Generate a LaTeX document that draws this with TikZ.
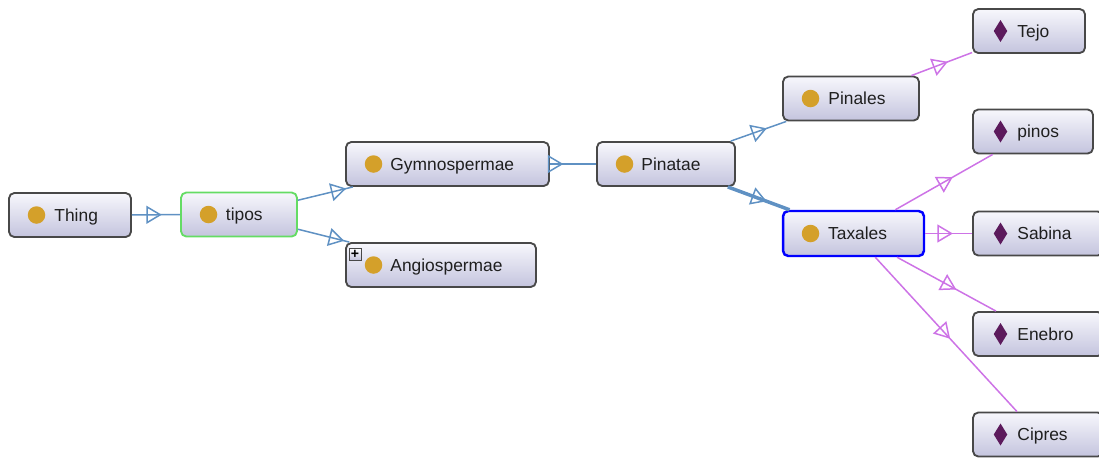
\documentclass[tikz,border=0pt]{standalone}
\usepackage{fontspec}
\setmainfont{Liberation Sans}
\usepackage{tikz}
\usetikzlibrary{positioning,arrows.meta,decorations.markings}
\definecolor{boxline}{RGB}{72,72,72}
\definecolor{boxtop}{RGB}{247,247,252}
\definecolor{boxbottom}{RGB}{196,196,222}
\definecolor{classgold}{RGB}{212,160,42}
\definecolor{indivpurple}{RGB}{92,26,92}
\definecolor{edgeblue}{RGB}{95,145,195}
\definecolor{edgepurple}{RGB}{205,115,230}
\definecolor{selgreen}{RGB}{100,220,100}
\tikzset{
  ogbox/.style={draw=boxline, line width=1.05pt, rounded corners=3pt,
    top color=boxtop, bottom color=boxbottom, minimum height=0.88cm, inner sep=0pt},
  ogclass/.style={ogbox, path picture={
      \fill[classgold] ([xshift=0.55cm]path picture bounding box.west) circle (0.175cm);}},
  ogindiv/.style={ogbox, path picture={
      \fill[indivpurple, sharp corners] ([xshift=0.55cm]path picture bounding box.west)
        +(0cm,0.22cm) -- +(0.135cm,0cm) -- +(0cm,-0.22cm) -- +(-0.135cm,0cm) -- cycle;}},
  oglabel/.style={anchor=west, inner sep=0pt, text height=7.1pt, text depth=0pt,
    font=\fontsize{9.9}{12}\selectfont, text=black!88},
  ogedge/.style={line width=0.85pt, postaction={decorate, decoration={markings,
      mark=at position #1 with {\arrow{Triangle[open, length=0.31cm, width=0.36cm, line width=0.85pt]}}}}},
}

\begin{document}
\begin{tikzpicture}[x=0.02cm, y=-0.02cm,
    isa/.style={ogedge=#1, draw=edgeblue},
    instof/.style={ogedge=#1, draw=edgepurple},
    ogplus/.style={draw=boxline, line width=0.5pt, top color=white, bottom color=boxbottom,
      minimum size=0.24cm, inner sep=0pt, font=\bfseries\fontsize{8}{8}\selectfont}]
  \useasboundingbox (0,0) rectangle (1099,458);
  % classes
  \node[ogclass, minimum width=2.44cm] (thing) at (70,215) {};
  \node[oglabel, right=0.92cm of thing.west] (thing-text) {Thing};
  \node[ogclass, minimum width=2.32cm, draw=selgreen] (tipos) at (239,214.5) {};
  \node[oglabel, right=0.91cm of tipos.west] (tipos-text) {tipos};
  \node[ogclass, minimum width=4.06cm] (gymno) at (447.5,164) {};
  \node[oglabel, right=0.9cm of gymno.west] (gymno-text) {Gymnospermae};
  \node[ogclass, minimum width=3.8cm] (angio) at (441,265) {};
  \node[oglabel, right=0.9cm of angio.west] (angio-text) {Angiospermae};
  \node[ogplus] (angio-plus) at (355,254) {+};
  \node[ogclass, minimum width=2.76cm] (pinatae) at (666,164) {};
  \node[oglabel, right=0.9cm of pinatae.west] (pinatae-text) {Pinatae};
  \node[ogclass, minimum width=2.72cm] (pinales) at (851,98.5) {};
  \node[oglabel, right=0.92cm of pinales.west] (pinales-text) {Pinales};
  \node[ogclass, minimum width=2.82cm, minimum height=0.9cm, draw=blue, line width=1.4pt] (taxales) at (853.5,233.5) {};
  \node[oglabel, right=0.92cm of taxales.west] (taxales-text) {Taxales};
  % individuals
  \node[ogindiv, minimum width=2.24cm] (tejo) at (1029,31) {};
  \node[oglabel, right=0.9cm of tejo.west] (tejo-text) {Tejo};
  \node[ogindiv, minimum width=2.4cm] (pinos) at (1033,131.5) {};
  \node[oglabel, right=0.9cm of pinos.west] (pinos-text) {pinos};
  \node[ogindiv, minimum width=2.6cm] (sabina) at (1038,233.5) {};
  \node[oglabel, right=0.9cm of sabina.west] (sabina-text) {Sabina};
  \node[ogindiv, minimum width=2.6cm] (enebro) at (1038,334) {};
  \node[oglabel, right=0.9cm of enebro.west] (enebro-text) {Enebro};
  \node[ogindiv, minimum width=2.6cm] (cipres) at (1038,434.5) {};
  \node[oglabel, right=0.9cm of cipres.west] (cipres-text) {Cipres};
  % subclass edges
  \draw[isa=0.62] (thing) -- (tipos);
  \draw[isa=0.88] (tipos) -- (gymno);
  \draw[isa=0.9] (tipos) -- (angio);
  \draw[isa=0.29] (gymno) -- (pinatae);
  \draw[isa=0.65] (pinatae) -- (pinales);
  \draw[isa=0.63, line width=2pt] (pinatae) -- (taxales);
  % instance edges
  \draw[instof=0.6] (pinales) -- (tejo);
  \draw[instof=0.59] (taxales) -- (pinos);
  \draw[instof=0.59] (taxales) -- (sabina);
  \draw[instof=0.6] (taxales) -- (enebro);
  \draw[instof=0.53] (taxales) -- (cipres);
\end{tikzpicture}
\end{document}
